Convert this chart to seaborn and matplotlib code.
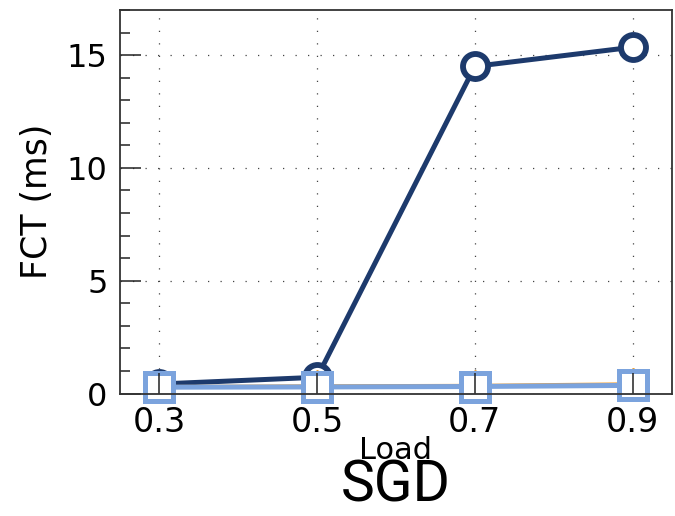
import matplotlib
matplotlib.use("Agg")
import matplotlib.pyplot as plt
import seaborn as sns
import pandas as pd
from matplotlib.ticker import MultipleLocator

# ---- data ----
load = [0.3, 0.5, 0.7, 0.9]
fct_dark = [0.42, 0.72, 14.5, 15.35]
fct_orange = [0.33, 0.36, 0.38, 0.45]
fct_light = [0.28, 0.29, 0.31, 0.36]
xticks = [0.3, 0.5, 0.7, 0.9]
yticks = [0, 5, 10, 15]

sns.set_style("white")
plt.rcParams['font.family'] = ['DejaVu Sans']
plt.rcParams['text.color'] = 'black'
plt.rcParams['axes.labelcolor'] = 'black'
plt.rcParams['xtick.color'] = 'black'
plt.rcParams['ytick.color'] = 'black'

W, H = 675, 516
fig = plt.figure(figsize=(W / 100, H / 100), dpi=100)
L, R, T, B = 120, 672, 10, 393.5
rect = [L / W, 1 - B / H, (R - L) / W, (B - T) / H]
ax = fig.add_axes(rect)

navy = '#1d3a6c'
orange = '#f0a035'
light = '#7ba3dd'

df_d = pd.DataFrame({'load': load, 'fct': fct_dark})
df_o = pd.DataFrame({'load': load, 'fct': fct_orange})
df_l = pd.DataFrame({'load': load, 'fct': fct_light})

sns.lineplot(data=df_d, x='load', y='fct', ax=ax, color=navy, lw=3.6,
             marker='o', markersize=18, markeredgewidth=4.2,
             markerfacecolor='white', markeredgecolor=navy,
             zorder=3, clip_on=False)
sns.lineplot(data=df_o, x='load', y='fct', ax=ax, color=orange, lw=1.6,
             marker='D', markersize=15, markeredgewidth=1.0,
             markerfacecolor='none', markeredgecolor=orange,
             zorder=4, clip_on=False)
sns.lineplot(data=df_l, x='load', y='fct', ax=ax, color=light, lw=3.6,
             marker='s', markersize=20, markeredgewidth=3.6,
             markerfacecolor='white', markeredgecolor=light,
             zorder=5, clip_on=False)

ax.set_xlim(0.25, 0.95)
ax.set_ylim(0, 17)
ax.set_xticks(xticks)
ax.set_yticks(yticks)
ax.grid(True, which='major', linestyle=(0, (1, 9)), color='#444444', lw=0.9)
ax.tick_params(length=0, labelbottom=False, labelleft=False)
for s in ax.spines.values():
    s.set_visible(False)
ax.set_xlabel('')
ax.set_ylabel('')

# overlay axes with spines and ticks drawn above markers
ax2 = fig.add_axes(rect)
ax2.set_zorder(ax.get_zorder() + 1)
ax2.patch.set_visible(False)
ax2.set_xlim(0.25, 0.95)
ax2.set_ylim(0, 17)
ax2.set_xticks(xticks)
ax2.set_xticklabels([f'{v:.1f}' for v in xticks])
ax2.set_yticks(yticks)
ax2.set_yticklabels([str(v) for v in yticks])
ax2.yaxis.set_minor_locator(MultipleLocator(1))
ax2.tick_params(axis='both', which='both', bottom=True, left=True,
                top=False, right=False)
ax2.tick_params(axis='both', which='major', direction='in', length=15,
                width=1.1, color='#222222')
ax2.tick_params(axis='y', which='minor', direction='in', length=7.5,
                width=1.1, color='#222222')
ax2.tick_params(axis='x', which='major', labelsize=24, pad=9)
ax2.tick_params(axis='y', which='major', labelsize=23, pad=9)
for s in ax2.spines.values():
    s.set_color('#333333')
    s.set_linewidth(1.3)
    s.set_visible(True)

ax2.set_ylabel('FCT (ms)', fontsize=25)
ax2.yaxis.set_label_coords(-0.15, 0.5)
ax2.yaxis.label.set_va('center')
ax2.set_xlabel('Load', fontsize=22)
ax2.xaxis.set_label_coords(0.5, -0.148)
ax2.xaxis.label.set_va('center')

fig.text((L + R) / 2 / W, 1 - 486 / H, 'SGD', fontsize=41,
         family=['Roboto', 'DejaVu Sans'], ha='center', va='center')

fig.savefig('out.png', dpi=100)
